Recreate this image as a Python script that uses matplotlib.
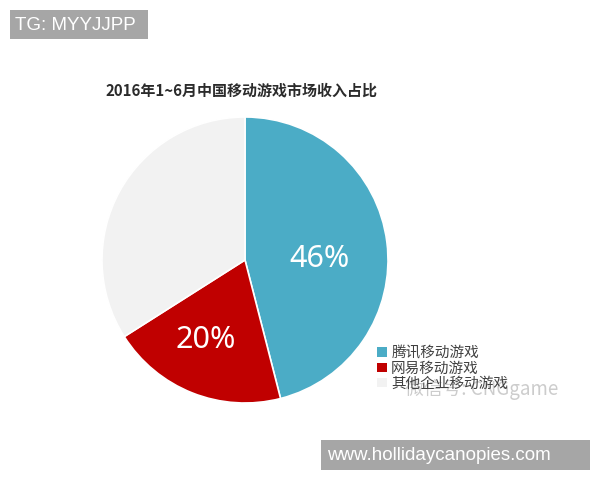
import matplotlib.pyplot as plt
from matplotlib.patches import Patch, Rectangle

plt.rcParams['font.family'] = ['Noto Sans CJK SC', 'DejaVu Sans']

labels = ['腾讯移动游戏', '网易移动游戏', '其他企业移动游戏']
shares = [46, 20, 34]
colors = ['#4bacc6', '#c00000', '#f2f2f2']
title = '2016年1~6月中国移动游戏市场收入占比'
# label positions inside the pie (in pie radius units)
pct_pos = {0: (0.524, 0.01), 1: (-0.273, -0.56)}

fig = plt.figure(figsize=(6, 4.8), dpi=100)
fig.patch.set_facecolor('white')

# pie axes: centre (245, 260) px, radius 143 px
ax = fig.add_axes([102 / 600, 77 / 480, 286 / 600, 286 / 480])
wedges, _ = ax.pie(
    shares, colors=colors, startangle=90, counterclock=False, radius=1,
    wedgeprops=dict(edgecolor='white', linewidth=1.2))
for i, (x, y) in pct_pos.items():
    ax.text(x, y, f'{shares[i]}%', ha='center', va='center',
            color='white', fontsize=22, family='Noto Sans')
ax.set_xlim(-1, 1)
ax.set_ylim(-1, 1)
ax.set_aspect('equal')
ax.axis('off')

fig.text(241 / 600, 1 - 90 / 480, title, ha='center', va='center',
         fontsize=10.8, fontweight='bold', color='#2b2b2b')

handles = [Patch(facecolor=c, edgecolor='none') for c in colors]
leg = fig.legend(handles, labels, loc='upper left',
                 bbox_to_anchor=(370 / 600, 1 - 339 / 480), frameon=False,
                 fontsize=10.5, handlelength=0.65, handleheight=0.65,
                 handletextpad=0.3, labelspacing=0.08, borderpad=0)
for t in leg.get_texts():
    t.set_color('#404040')

# watermark
fig.text(405 / 600, 1 - 389 / 480, '微信号: CNGgame', ha='left', va='center',
         fontsize=13.5, color='#c0c0c0', alpha=0.8)

# grey tag boxes
fig.add_artist(Rectangle((10 / 600, 1 - 39 / 480), 138 / 600, 29 / 480,
                         transform=fig.transFigure, facecolor='#a6a6a6',
                         edgecolor='none'))
fig.text(15 / 600, 1 - 25 / 480, 'TG: MYYJJPP', ha='left', va='center',
         fontsize=13.5, color='white', family='Liberation Sans')
fig.add_artist(Rectangle((321 / 600, 1 - 470 / 480), 269 / 600, 30 / 480,
                         transform=fig.transFigure, facecolor='#a6a6a6',
                         edgecolor='none'))
fig.text(327 / 600, 1 - 455 / 480, 'www.hollidaycanopies.com', ha='left',
         va='center', fontsize=13.5, color='white', family='Liberation Sans')

fig.savefig('out.png', dpi=100)
